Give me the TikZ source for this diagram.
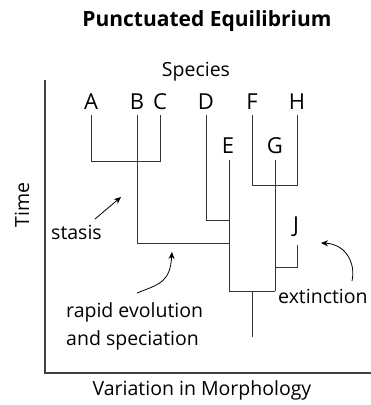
\documentclass[tikz,border=0pt]{standalone}
\usepackage{fontspec}
\setmainfont{Open Sans}
\usetikzlibrary{arrows.meta}
\begin{document}
\begin{tikzpicture}[x=1pt,y=-1pt,
  br/.style={draw=black!80, line width=0.9pt},
  ax/.style={draw=black!75, line width=1.3pt},
  lab/.style={font=\fontsize{22}{24}\selectfont, inner sep=0pt},
  txt/.style={font=\fontsize{19.5}{28}\selectfont, inner sep=0pt},
  arr/.style={draw=black, line width=0.8pt, -{Stealth[length=7pt,width=6pt]}}]
\useasboundingbox (0,0) rectangle (371,405);
% title
\node[font=\fontsize{21}{24}\selectfont\bfseries, inner sep=0pt] (title) at (207,21) {Punctuated Equilibrium};
% axes
\coordinate (o) at (45,373);
\coordinate (yt) at (45,80);
\coordinate (xr) at (371,373);
\draw[ax] (yt) -- (o) -- (xr);
\node[txt, rotate=90] (time) at (22,205) {Time};
\node[txt] (xlab) at (202,390) {Variation in Morphology};
\node[txt] (species) at (196,72) {Species};
% species labels
\node[lab] (A) at (91,102) {A};
\node[lab] (B) at (137,102) {B};
\node[lab] (C) at (160,102) {C};
\node[lab] (D) at (206,102) {D};
\node[lab] (F) at (252,102) {F};
\node[lab] (H) at (297,102) {H};
\node[lab] (E) at (228,146) {E};
\node[lab] (G) at (275,146) {G};
\node[lab] (J) at (296,227) {J};
% tree
\draw[br] (91,115) -- (91,161) -- (160,161) -- (160,115);
\draw[br] (137,115) -- (137,243) -- (229,243);
\draw[br] (206,115) -- (206,220) -- (229,220);
\draw[br] (229,160) -- (229,291) -- (275,291);
\draw[br] (252,115) -- (252,185) -- (297,185) -- (297,115);
\draw[br] (275,160) -- (275,291);
\draw[br] (297,245) -- (297,267) -- (275,267);
\draw[br] (252,291) -- (252,337);
% annotations
\node[txt, anchor=west] (stasis) at (51,232) {stasis};
\draw[arr] (95,219) -- (121,197);
\node[txt, anchor=west, align=left] (rapid) at (66,326) {rapid evolution\\and speciation};
\draw[arr] (137,293) .. controls (160,284) and (170,282) .. (172,252);
\node[txt, anchor=west] (ext) at (278,296) {extinction};
\draw[arr] (352,281) .. controls (356,262) and (345,244) .. (321,243);
\end{tikzpicture}
\end{document}
